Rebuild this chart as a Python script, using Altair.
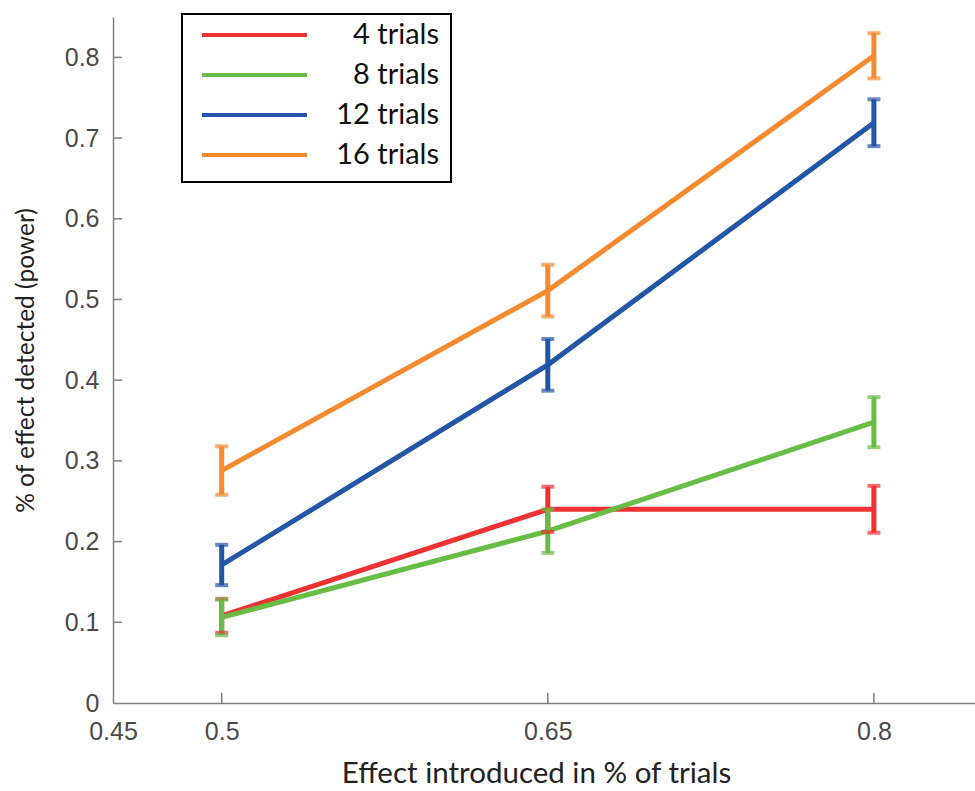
import altair as alt
import pandas as pd

# ---- data ----
effect = [0.5, 0.65, 0.8]
series = ["4 trials", "8 trials", "12 trials", "16 trials"]
power_4 = [0.108, 0.240, 0.240]
err_4 = [0.021, 0.028, 0.029]
power_8 = [0.106, 0.213, 0.348]
err_8 = [0.022, 0.027, 0.031]
power_12 = [0.171, 0.419, 0.719]
err_12 = [0.025, 0.032, 0.029]
power_16 = [0.288, 0.511, 0.802]
err_16 = [0.030, 0.032, 0.028]
colors = ["#EE3131", "#68BD45", "#2356A7", "#F68A2E"]

x_ticks = [0.45, 0.5, 0.65, 0.8]
y_ticks = [0, 0.1, 0.2, 0.3, 0.4, 0.5, 0.6, 0.7, 0.8]

rows = []
for name, pw, er in zip(series, [power_4, power_8, power_12, power_16],
                        [err_4, err_8, err_12, err_16]):
    for x, p, e in zip(effect, pw, er):
        rows.append({"series": name, "order": series.index(name), "x": x,
                     "p": p, "lo": p - e, "hi": p + e})
df = pd.DataFrame(rows)

W, H = 862, 686
xscale = alt.Scale(domain=[0.45, 0.8465], nice=False, zero=False)
yscale = alt.Scale(domain=[0, 0.85], nice=False)
color = alt.Color("series:N", scale=alt.Scale(domain=series, range=colors),
                  sort=series, title=None)

base = alt.Chart(df)

lines = base.mark_line(strokeWidth=5).encode(
    x=alt.X("x:Q", scale=xscale,
            axis=alt.Axis(values=x_ticks, format="~g", title="Effect introduced in % of trials",
                          grid=False, ticks=False, tickSize=0, labelPadding=16,
                          labelFlush=False, labelOverlap=False,
                          titlePadding=15, titleFontSize=29.5, titleX=423)),
    y=alt.Y("p:Q", scale=yscale,
            axis=alt.Axis(values=y_ticks, format="~g", title="% of effect detected (power)",
                          grid=False, ticks=False, tickSize=0, labelPadding=14,
                          labelFlush=False, labelOverlap=False,
                          titlePadding=26, titleFontSize=24.5)),
    color=color,
    detail="series:N",
    order="order:Q",
)

stems = base.mark_rule(strokeWidth=5).encode(
    x=alt.X("x:Q", scale=xscale),
    y=alt.Y("lo:Q", scale=yscale),
    y2="hi:Q",
    color=color,
)
caps_lo = base.mark_tick(orient="horizontal", size=13, thickness=4).encode(
    x=alt.X("x:Q", scale=xscale),
    y=alt.Y("lo:Q", scale=yscale),
    color=color,
)
caps_hi = base.mark_tick(orient="horizontal", size=13, thickness=4).encode(
    x=alt.X("x:Q", scale=xscale),
    y=alt.Y("hi:Q", scale=yscale),
    color=color,
)

# inward tick marks
ytick_df = pd.DataFrame({"v": y_ticks[1:]})
xtick_df = pd.DataFrame({"v": x_ticks[1:]})
yt = alt.Chart(ytick_df).mark_rule(color="#7f7f7f", strokeWidth=1.5).encode(
    y=alt.Y("v:Q", scale=yscale), x=alt.value(0), x2=alt.value(9))
xt = alt.Chart(xtick_df).mark_rule(color="#7f7f7f", strokeWidth=1.5).encode(
    x=alt.X("v:Q", scale=xscale), y=alt.value(H), y2=alt.value(H - 10))

chart = alt.layer(lines, stems, caps_lo, caps_hi, yt, xt).properties(
    width=W, height=H,
    autosize=alt.AutoSizeParams(type="none"),
    padding={"left": 113, "top": 17, "right": 0, "bottom": 88},
).configure_view(stroke=None).configure_axis(
    domainColor="#7f7f7f", domainWidth=1.5,
    labelFont="Liberation Sans", labelFontSize=25, labelColor="#4a4a4a",
    titleFont="Lato", titleFontWeight="normal", titleColor="#222222",
).configure_legend(
    orient="none", legendX=69, legendY=-3,
    strokeColor="black", strokeWidth=2, fillColor="white",
    padding=12, clipHeight=18, rowPadding=11,
    symbolType="stroke", symbolSize=11025, symbolStrokeWidth=4, symbolOffset=6,
    symbolOpacity=1,
    labelFont="Lato", labelFontSize=29, labelColor="#111111",
    labelAlign="right", labelOffset=130, labelBaseline="middle",
)

chart.save("out.html", embed_options={"renderer": "svg", "actions": False})
